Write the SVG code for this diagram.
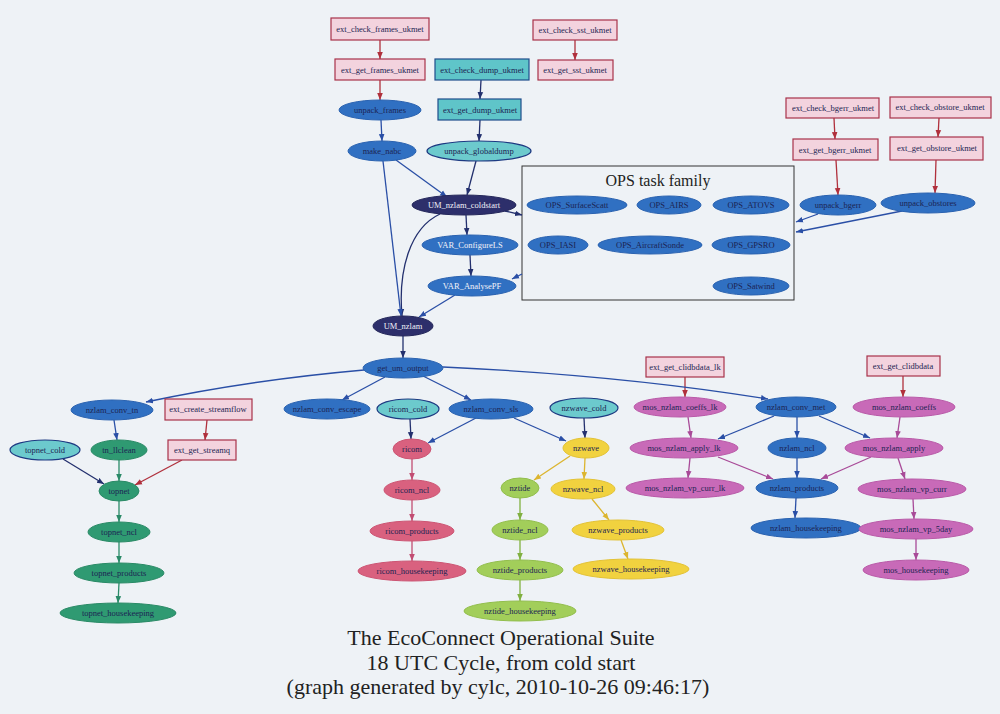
<svg xmlns="http://www.w3.org/2000/svg" width="1000" height="714" viewBox="0 0 1000 714">
<style>
.t{font-family:"Liberation Serif","Times New Roman",serif;font-size:8.5px;text-anchor:middle;dominant-baseline:central;fill:#1c2452}
.tw{fill:#f2f2f8}
.pr{fill:#f3d3de;stroke:#a8334a;stroke-width:1.2}
.tr{fill:#5fc5c9;stroke:#1f4d8c;stroke-width:1.2}
.be{fill:#3070c2;stroke:#2a62b0;stroke-width:1}
.ne{fill:#2d2f6b;stroke:#24275a;stroke-width:1}
.te{fill:#6ccacd;stroke:#1d3a82;stroke-width:1.2}
.ge{fill:#2f9a72;stroke:#2a8a66;stroke-width:1}
.re{fill:#d9617f;stroke:#cc5573;stroke-width:1}
.ye{fill:#f1d23f;stroke:#e3c235;stroke-width:1}
.le{fill:#a2ce5a;stroke:#92be4c;stroke-width:1}
.me{fill:#c86ab8;stroke:#b95aa8;stroke-width:1}
.e{fill:none;stroke-width:1.3}
.er{stroke:#b0303c}.en{stroke:#23306e}.eb{stroke:#2a4fa6}.eg{stroke:#2a8a68}
.ep{stroke:#c24d72}.ey{stroke:#dcb52f}.el{stroke:#80b040}.em{stroke:#a84a98}
</style>
<defs>
<marker id="mr" viewBox="0 0 10 10" refX="10" refY="5" markerWidth="7" markerHeight="7" markerUnits="userSpaceOnUse" orient="auto"><path d="M0,1 L10,5 L0,9 z" fill="#b0303c"/></marker>
<marker id="mn" viewBox="0 0 10 10" refX="10" refY="5" markerWidth="7" markerHeight="7" markerUnits="userSpaceOnUse" orient="auto"><path d="M0,1 L10,5 L0,9 z" fill="#23306e"/></marker>
<marker id="mb" viewBox="0 0 10 10" refX="10" refY="5" markerWidth="7" markerHeight="7" markerUnits="userSpaceOnUse" orient="auto"><path d="M0,1 L10,5 L0,9 z" fill="#2a4fa6"/></marker>
<marker id="mg" viewBox="0 0 10 10" refX="10" refY="5" markerWidth="7" markerHeight="7" markerUnits="userSpaceOnUse" orient="auto"><path d="M0,1 L10,5 L0,9 z" fill="#2a8a68"/></marker>
<marker id="mp" viewBox="0 0 10 10" refX="10" refY="5" markerWidth="7" markerHeight="7" markerUnits="userSpaceOnUse" orient="auto"><path d="M0,1 L10,5 L0,9 z" fill="#c24d72"/></marker>
<marker id="my" viewBox="0 0 10 10" refX="10" refY="5" markerWidth="7" markerHeight="7" markerUnits="userSpaceOnUse" orient="auto"><path d="M0,1 L10,5 L0,9 z" fill="#dcb52f"/></marker>
<marker id="ml" viewBox="0 0 10 10" refX="10" refY="5" markerWidth="7" markerHeight="7" markerUnits="userSpaceOnUse" orient="auto"><path d="M0,1 L10,5 L0,9 z" fill="#80b040"/></marker>
<marker id="mm" viewBox="0 0 10 10" refX="10" refY="5" markerWidth="7" markerHeight="7" markerUnits="userSpaceOnUse" orient="auto"><path d="M0,1 L10,5 L0,9 z" fill="#a84a98"/></marker>
</defs>
<rect x="0" y="0" width="1000" height="714" fill="#eef2f6"/>

<g id="ops_family">
<rect x="522" y="166" width="272" height="134" fill="none" stroke="#333" stroke-width="1"/>
<text x="658" y="180" font-family="Liberation Serif, serif" font-size="16" text-anchor="middle" dominant-baseline="central" fill="#222">OPS task family</text>
</g>

<g id="connectors">
<line class="e er" x1="380" y1="40" x2="380" y2="59" marker-end="url(#mr)"/>
<line class="e er" x1="380" y1="80" x2="380" y2="100" marker-end="url(#mr)"/>
<line class="e er" x1="575" y1="40" x2="575" y2="60" marker-end="url(#mr)"/>
<line class="e er" x1="834" y1="118" x2="835" y2="139" marker-end="url(#mr)"/>
<line class="e er" x1="836" y1="160" x2="838" y2="195" marker-end="url(#mr)"/>
<line class="e er" x1="939" y1="118" x2="938" y2="137" marker-end="url(#mr)"/>
<line class="e er" x1="936" y1="160" x2="935" y2="193" marker-end="url(#mr)"/>
<line class="e er" x1="207" y1="420" x2="205" y2="440" marker-end="url(#mr)"/>
<line class="e er" x1="182" y1="460" x2="135" y2="485" marker-end="url(#mr)"/>
<line class="e er" x1="685" y1="377" x2="685" y2="397" marker-end="url(#mr)"/>
<line class="e er" x1="903" y1="376" x2="903" y2="397" marker-end="url(#mr)"/>

<line class="e en" x1="481" y1="80" x2="480" y2="99" marker-end="url(#mn)"/>
<line class="e en" x1="480" y1="120" x2="479" y2="141" marker-end="url(#mn)"/>
<line class="e en" x1="476" y1="161" x2="467" y2="195" marker-end="url(#mn)"/>
<line class="e en" x1="466" y1="215" x2="467" y2="235" marker-end="url(#mn)"/>
<line class="e en" x1="470" y1="255" x2="471" y2="276" marker-end="url(#mn)"/>
<path class="e en" d="M440,214 C410,228 398,270 402,316" marker-end="url(#mn)"/>
<line class="e en" x1="505" y1="211" x2="522" y2="215" marker-end="url(#mn)"/>
<line class="e en" x1="403" y1="336" x2="403" y2="358" marker-end="url(#mn)"/>
<line class="e en" x1="410" y1="419" x2="411" y2="439" marker-end="url(#mn)"/>
<line class="e en" x1="584" y1="418" x2="585" y2="438" marker-end="url(#mn)"/>
<line class="e en" x1="63" y1="459" x2="104" y2="484" marker-end="url(#mn)"/>

<line class="e eb" x1="381" y1="120" x2="382" y2="141" marker-end="url(#mb)"/>
<line class="e eb" x1="396" y1="160" x2="447" y2="197" marker-end="url(#mb)"/>
<line class="e eb" x1="383" y1="161" x2="401" y2="316" marker-end="url(#mb)"/>
<line class="e eb" x1="455" y1="295" x2="419" y2="317" marker-end="url(#mb)"/>
<line class="e eb" x1="522" y1="274" x2="512" y2="279" marker-end="url(#mb)"/>
<line class="e eb" x1="818" y1="214" x2="796" y2="222" marker-end="url(#mb)"/>
<line class="e eb" x1="902" y1="211" x2="796" y2="232" marker-end="url(#mb)"/>
<path class="e eb" d="M364,370 Q250,380 146,402" marker-end="url(#mb)"/>
<line class="e eb" x1="385" y1="377" x2="342" y2="400" marker-end="url(#mb)"/>
<line class="e eb" x1="423" y1="376" x2="471" y2="400" marker-end="url(#mb)"/>
<path class="e eb" d="M443,367 Q620,375 768,399" marker-end="url(#mb)"/>
<line class="e eb" x1="114" y1="420" x2="117" y2="440" marker-end="url(#mb)"/>
<line class="e eb" x1="476" y1="418" x2="428" y2="443" marker-end="url(#mb)"/>
<line class="e eb" x1="514" y1="418" x2="566" y2="441" marker-end="url(#mb)"/>
<line class="e eb" x1="774" y1="416" x2="718" y2="439" marker-end="url(#mb)"/>
<line class="e eb" x1="797" y1="417" x2="797" y2="438" marker-end="url(#mb)"/>
<line class="e eb" x1="819" y1="416" x2="870" y2="438" marker-end="url(#mb)"/>
<line class="e eb" x1="797" y1="458" x2="797" y2="478" marker-end="url(#mb)"/>
<line class="e eb" x1="796" y1="498" x2="795" y2="518" marker-end="url(#mb)"/>

<line class="e eg" x1="119" y1="460" x2="119" y2="481" marker-end="url(#mg)"/>
<line class="e eg" x1="119" y1="501" x2="119" y2="522" marker-end="url(#mg)"/>
<line class="e eg" x1="119" y1="542" x2="119" y2="563" marker-end="url(#mg)"/>
<line class="e eg" x1="119" y1="583" x2="118" y2="603" marker-end="url(#mg)"/>

<line class="e ep" x1="412" y1="459" x2="412" y2="480" marker-end="url(#mp)"/>
<line class="e ep" x1="412" y1="500" x2="412" y2="521" marker-end="url(#mp)"/>
<line class="e ep" x1="412" y1="541" x2="412" y2="561" marker-end="url(#mp)"/>

<line class="e ey" x1="570" y1="456" x2="534" y2="480" marker-end="url(#my)"/>
<line class="e ey" x1="585" y1="458" x2="584" y2="479" marker-end="url(#my)"/>
<line class="e ey" x1="592" y1="499" x2="609" y2="520" marker-end="url(#my)"/>
<line class="e ey" x1="621" y1="540" x2="628" y2="559" marker-end="url(#my)"/>

<line class="e el" x1="520" y1="498" x2="520" y2="520" marker-end="url(#ml)"/>
<line class="e el" x1="520" y1="540" x2="520" y2="560" marker-end="url(#ml)"/>
<line class="e el" x1="520" y1="580" x2="520" y2="601" marker-end="url(#ml)"/>

<line class="e em" x1="688" y1="417" x2="691" y2="438" marker-end="url(#mm)"/>
<line class="e em" x1="690" y1="458" x2="688" y2="478" marker-end="url(#mm)"/>
<line class="e em" x1="718" y1="457" x2="773" y2="479" marker-end="url(#mm)"/>
<line class="e em" x1="900" y1="417" x2="897" y2="438" marker-end="url(#mm)"/>
<line class="e em" x1="871" y1="457" x2="821" y2="479" marker-end="url(#mm)"/>
<line class="e em" x1="898" y1="458" x2="905" y2="479" marker-end="url(#mm)"/>
<line class="e em" x1="913" y1="499" x2="914" y2="519" marker-end="url(#mm)"/>
<line class="e em" x1="916" y1="539" x2="916" y2="560" marker-end="url(#mm)"/>
</g>

<g id="ext_check_frames_ukmet"><rect class="pr" x="331" y="18" width="98" height="22"/><text class="t" x="380" y="29">ext_check_frames_ukmet</text></g>
<g id="ext_get_frames_ukmet"><rect class="pr" x="335" y="59" width="90" height="21"/><text class="t" x="380" y="70">ext_get_frames_ukmet</text></g>
<g id="ext_check_sst_ukmet"><rect class="pr" x="533" y="20" width="84" height="20"/><text class="t" x="575" y="30">ext_check_sst_ukmet</text></g>
<g id="ext_get_sst_ukmet"><rect class="pr" x="538" y="60" width="75" height="20"/><text class="t" x="575" y="70">ext_get_sst_ukmet</text></g>
<g id="ext_check_dump_ukmet"><rect class="tr" x="435" y="59" width="94" height="21"/><text class="t" x="482" y="70">ext_check_dump_ukmet</text></g>
<g id="ext_get_dump_ukmet"><rect class="tr" x="438" y="99" width="83" height="21"/><text class="t" x="480" y="110">ext_get_dump_ukmet</text></g>
<g id="unpack_frames"><ellipse class="be" cx="380" cy="110" rx="41" ry="10"/><text class="t" x="380" y="110">unpack_frames</text></g>
<g id="make_nabc"><ellipse class="be" cx="382" cy="151" rx="34" ry="10"/><text class="t" x="382" y="151">make_nabc</text></g>
<g id="unpack_globaldump"><ellipse class="te" cx="479" cy="151" rx="52" ry="10"/><text class="t" x="479" y="151">unpack_globaldump</text></g>
<g id="UM_nzlam_coldstart"><ellipse class="ne" cx="464" cy="205" rx="52" ry="10"/><text class="t tw" x="464" y="205">UM_nzlam_coldstart</text></g>
<g id="VAR_ConfigureLS"><ellipse class="be" cx="470" cy="245" rx="48" ry="10"/><text class="t tw" x="470" y="245">VAR_ConfigureLS</text></g>
<g id="VAR_AnalysePF"><ellipse class="be" cx="472" cy="286" rx="44" ry="10"/><text class="t tw" x="472" y="286">VAR_AnalysePF</text></g>
<g id="UM_nzlam"><ellipse class="ne" cx="403" cy="326" rx="30" ry="10"/><text class="t tw" x="403" y="326">UM_nzlam</text></g>
<g id="get_um_output"><ellipse class="be" cx="403" cy="368" rx="40" ry="10"/><text class="t" x="403" y="368">get_um_output</text></g>

<g id="OPS_SurfaceScatt"><ellipse class="be" cx="577" cy="205" rx="50" ry="9"/><text class="t" x="577" y="205">OPS_SurfaceScatt</text></g>
<g id="OPS_AIRS"><ellipse class="be" cx="669" cy="205" rx="32" ry="9"/><text class="t" x="669" y="205">OPS_AIRS</text></g>
<g id="OPS_ATOVS"><ellipse class="be" cx="751" cy="205" rx="38" ry="9"/><text class="t" x="751" y="205">OPS_ATOVS</text></g>
<g id="OPS_IASI"><ellipse class="be" cx="558" cy="245" rx="30" ry="9"/><text class="t" x="558" y="245">OPS_IASI</text></g>
<g id="OPS_AircraftSonde"><ellipse class="be" cx="650" cy="245" rx="52" ry="9"/><text class="t" x="650" y="245">OPS_AircraftSonde</text></g>
<g id="OPS_GPSRO"><ellipse class="be" cx="751" cy="245" rx="39" ry="9"/><text class="t" x="751" y="245">OPS_GPSRO</text></g>
<g id="OPS_Satwind"><ellipse class="be" cx="751" cy="286" rx="38" ry="9"/><text class="t" x="751" y="286">OPS_Satwind</text></g>

<g id="ext_check_bgerr_ukmet"><rect class="pr" x="786" y="98" width="93" height="20"/><text class="t" x="833" y="108">ext_check_bgerr_ukmet</text></g>
<g id="ext_get_bgerr_ukmet"><rect class="pr" x="793" y="139" width="85" height="21"/><text class="t" x="835" y="150">ext_get_bgerr_ukmet</text></g>
<g id="ext_check_obstore_ukmet"><rect class="pr" x="890" y="97" width="101" height="21"/><text class="t" x="940" y="107">ext_check_obstore_ukmet</text></g>
<g id="ext_get_obstore_ukmet"><rect class="pr" x="890" y="137" width="93" height="23"/><text class="t" x="937" y="148">ext_get_obstore_ukmet</text></g>
<g id="unpack_bgerr"><ellipse class="be" cx="838" cy="205" rx="38" ry="10"/><text class="t" x="838" y="205">unpack_bgerr</text></g>
<g id="unpack_obstores"><ellipse class="be" cx="928" cy="203" rx="47" ry="10"/><text class="t" x="928" y="203">unpack_obstores</text></g>

<g id="nzlam_conv_tn"><ellipse class="be" cx="112" cy="410" rx="41" ry="10"/><text class="t" x="112" y="410">nzlam_conv_tn</text></g>
<g id="ext_create_streamflow"><rect class="pr" x="165" y="399" width="87" height="21"/><text class="t" x="208" y="409">ext_create_streamflow</text></g>
<g id="nzlam_conv_escape"><ellipse class="be" cx="327" cy="409" rx="43" ry="10"/><text class="t" x="327" y="409">nzlam_conv_escape</text></g>
<g id="ricom_cold"><ellipse class="te" cx="408" cy="409" rx="31" ry="10"/><text class="t" x="408" y="409">ricom_cold</text></g>
<g id="nzlam_conv_sls"><ellipse class="be" cx="491" cy="409" rx="42" ry="10"/><text class="t" x="491" y="409">nzlam_conv_sls</text></g>
<g id="nzwave_cold"><ellipse class="te" cx="584" cy="408" rx="34" ry="10"/><text class="t" x="584" y="408">nzwave_cold</text></g>
<g id="ext_get_clidbdata_lk"><rect class="pr" x="646" y="357" width="78" height="20"/><text class="t" x="685" y="367">ext_get_clidbdata_lk</text></g>
<g id="ext_get_clidbdata"><rect class="pr" x="867" y="356" width="73" height="20"/><text class="t" x="903" y="366">ext_get_clidbdata</text></g>
<g id="mos_nzlam_coeffs_lk"><ellipse class="me" cx="680" cy="407" rx="46" ry="10"/><text class="t" x="680" y="407">mos_nzlam_coeffs_lk</text></g>
<g id="nzlam_conv_met"><ellipse class="be" cx="796" cy="407" rx="40" ry="10"/><text class="t" x="796" y="407">nzlam_conv_met</text></g>
<g id="mos_nzlam_coeffs"><ellipse class="me" cx="904" cy="407" rx="51" ry="10"/><text class="t" x="904" y="407">mos_nzlam_coeffs</text></g>

<g id="topnet_cold"><ellipse class="te" cx="45" cy="450" rx="35" ry="10"/><text class="t" x="45" y="450">topnet_cold</text></g>
<g id="tn_llclean"><ellipse class="ge" cx="119" cy="450" rx="28" ry="10"/><text class="t" x="119" y="450">tn_llclean</text></g>
<g id="ext_get_streamq"><rect class="pr" x="168" y="440" width="68" height="20"/><text class="t" x="202" y="450">ext_get_streamq</text></g>
<g id="ricom"><ellipse class="re" cx="412" cy="449" rx="19" ry="10"/><text class="t" x="412" y="449">ricom</text></g>
<g id="nzwave"><ellipse class="ye" cx="586" cy="448" rx="23" ry="10"/><text class="t" x="586" y="448">nzwave</text></g>
<g id="mos_nzlam_apply_lk"><ellipse class="me" cx="684" cy="448" rx="54" ry="10"/><text class="t" x="684" y="448">mos_nzlam_apply_lk</text></g>
<g id="nzlam_ncl"><ellipse class="be" cx="797" cy="448" rx="29" ry="10"/><text class="t" x="797" y="448">nzlam_ncl</text></g>
<g id="mos_nzlam_apply"><ellipse class="me" cx="894" cy="448" rx="49" ry="10"/><text class="t" x="894" y="448">mos_nzlam_apply</text></g>

<g id="topnet"><ellipse class="ge" cx="119" cy="491" rx="20" ry="10"/><text class="t" x="119" y="491">topnet</text></g>
<g id="ricom_ncl"><ellipse class="re" cx="412" cy="490" rx="28" ry="10"/><text class="t" x="412" y="490">ricom_ncl</text></g>
<g id="nztide"><ellipse class="le" cx="520" cy="488" rx="19" ry="10"/><text class="t" x="520" y="488">nztide</text></g>
<g id="nzwave_ncl"><ellipse class="ye" cx="583" cy="489" rx="32" ry="10"/><text class="t" x="583" y="489">nzwave_ncl</text></g>
<g id="mos_nzlam_vp_curr_lk"><ellipse class="me" cx="685" cy="488" rx="59" ry="10"/><text class="t" x="685" y="488">mos_nzlam_vp_curr_lk</text></g>
<g id="nzlam_products"><ellipse class="be" cx="797" cy="488" rx="41" ry="10"/><text class="t" x="797" y="488">nzlam_products</text></g>
<g id="mos_nzlam_vp_curr"><ellipse class="me" cx="912" cy="489" rx="54" ry="10"/><text class="t" x="912" y="489">mos_nzlam_vp_curr</text></g>

<g id="topnet_ncl"><ellipse class="ge" cx="119" cy="532" rx="31" ry="10"/><text class="t" x="119" y="532">topnet_ncl</text></g>
<g id="ricom_products"><ellipse class="re" cx="412" cy="531" rx="42" ry="10"/><text class="t" x="412" y="531">ricom_products</text></g>
<g id="nztide_ncl"><ellipse class="le" cx="520" cy="530" rx="28" ry="10"/><text class="t" x="520" y="530">nztide_ncl</text></g>
<g id="nzwave_products"><ellipse class="ye" cx="618" cy="530" rx="46" ry="10"/><text class="t" x="618" y="530">nzwave_products</text></g>
<g id="nzlam_housekeeping"><ellipse class="be" cx="806" cy="528" rx="55" ry="10"/><text class="t" x="806" y="528">nzlam_housekeeping</text></g>
<g id="mos_nzlam_vp_5day"><ellipse class="me" cx="916" cy="529" rx="57" ry="10"/><text class="t" x="916" y="529">mos_nzlam_vp_5day</text></g>

<g id="topnet_products"><ellipse class="ge" cx="119" cy="573" rx="45" ry="10"/><text class="t" x="119" y="573">topnet_products</text></g>
<g id="ricom_housekeeping"><ellipse class="re" cx="412" cy="571" rx="54" ry="10"/><text class="t" x="412" y="571">ricom_housekeeping</text></g>
<g id="nztide_products"><ellipse class="le" cx="520" cy="570" rx="43" ry="10"/><text class="t" x="520" y="570">nztide_products</text></g>
<g id="nzwave_housekeeping"><ellipse class="ye" cx="631" cy="569" rx="58" ry="10"/><text class="t" x="631" y="569">nzwave_housekeeping</text></g>
<g id="mos_housekeeping"><ellipse class="me" cx="916" cy="570" rx="53" ry="10"/><text class="t" x="916" y="570">mos_housekeeping</text></g>

<g id="topnet_housekeeping"><ellipse class="ge" cx="118" cy="613" rx="58" ry="10"/><text class="t" x="118" y="613">topnet_housekeeping</text></g>
<g id="nztide_housekeeping"><ellipse class="le" cx="520" cy="611" rx="56" ry="10"/><text class="t" x="520" y="611">nztide_housekeeping</text></g>

<g id="title" font-family="Liberation Serif, Times New Roman, serif" font-size="22" text-anchor="middle" fill="#222">
<text x="501" y="645">The EcoConnect Operational Suite</text>
<text x="501" y="670">18 UTC Cycle, from cold start</text>
<text x="498" y="694">(graph generated by cylc, 2010-10-26 09:46:17)</text>
</g>
</svg>
